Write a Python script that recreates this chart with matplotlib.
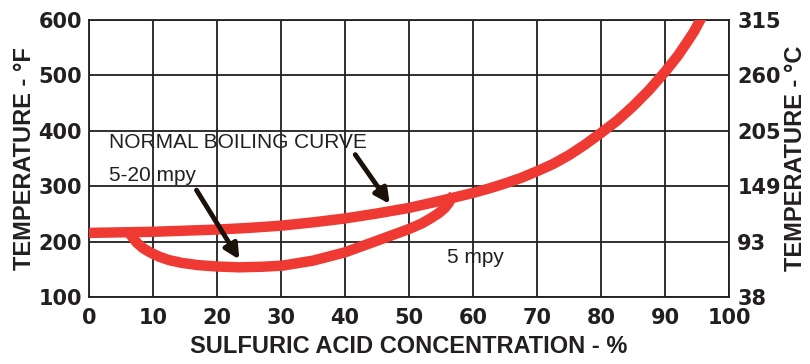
import matplotlib
matplotlib.use("Agg")
import matplotlib.pyplot as plt

# Normal boiling curve (concentration %, temperature °F)
boil_x = [0, 5, 10, 15, 20, 25, 30, 35, 40, 45, 50, 55, 57.5, 60, 62.5, 65, 67.5, 70, 72.5, 75,
          77.5, 80, 82.5, 85, 87.5, 90, 92, 93.3, 94.5, 96]
boil_t = [216, 217, 218, 220, 222, 225, 229, 235, 242, 251, 261, 274, 281, 288, 296, 305, 315, 327, 340, 356,
          375, 396, 418, 444, 473, 506, 535, 557, 578, 610]

# 5 mpy iso-corrosion loop
loop_x = [6.3, 6.8, 7.5, 8.5, 9.7, 11, 12.5, 14.5, 17, 20, 23.4, 27, 30.2, 35, 40, 45.5, 50,
          52, 53.5, 54.7, 55.6, 56.2, 56.6, 57.0]
loop_t = [216, 208, 198, 188, 180, 173, 167, 162, 158, 155.5, 154, 155, 157, 166, 181, 204, 223,
          233, 243, 252, 261, 270, 278, 285]

x_ticks = [0, 10, 20, 30, 40, 50, 60, 70, 80, 90, 100]
f_ticks = [100, 200, 300, 400, 500, 600]
c_labels = ["38", "93", "149", "205", "260", "315"]

RED = "#ee3a33"
INK = "#231f20"

plt.rcParams["font.family"] = ["Liberation Sans", "DejaVu Sans"]
TICKFONT = dict(family="DejaVu Sans", weight="bold", size=15)

fig = plt.figure(figsize=(8.1, 3.64), dpi=100)
ax = fig.add_axes([89/810, 1 - 297.3/364, 640/810, (297.3 - 19.7)/364])

ax.set_xlim(0, 100)
ax.set_ylim(100, 600)
ax.set_xticks(x_ticks)
ax.set_xticklabels([str(v) for v in x_ticks], fontdict=TICKFONT)
ax.set_yticks(f_ticks)
ax.set_yticklabels([str(v) for v in f_ticks], fontdict=TICKFONT)
ax.grid(True, color=INK, linewidth=1.3)
ax.set_axisbelow(True)
for s in ax.spines.values():
    s.set_color(INK)
    s.set_linewidth(1.3)
ax.tick_params(length=0, colors=INK)
ax.tick_params(axis="x", pad=8)
ax.tick_params(axis="y", pad=5)

ax.plot(boil_x, boil_t, color=RED, linewidth=7.5, solid_capstyle="butt", solid_joinstyle="round", zorder=3)
ax.plot(loop_x, loop_t, color=RED, linewidth=7.5, solid_capstyle="butt", solid_joinstyle="round", zorder=3)

ax.set_xlabel("SULFURIC ACID CONCENTRATION - %", fontsize=17, fontweight="bold", color=INK, labelpad=5)
ax.set_ylabel("TEMPERATURE - °F", fontsize=17, fontweight="bold", color=INK, labelpad=2)

ax2 = ax.twinx()
ax2.set_ylim(100, 600)
ax2.set_yticks(f_ticks)
ax2.set_yticklabels(c_labels, fontdict=TICKFONT)
ax2.tick_params(length=0, colors=INK, pad=6)
for s in ax2.spines.values():
    s.set_visible(False)
ax2.set_ylabel("TEMPERATURE - °C", fontsize=17, fontweight="bold", color=INK, labelpad=2)

ax.text(3.1, 378, "NORMAL BOILING CURVE", fontsize=15, color=INK, va="center", ha="left", zorder=5)
ax.text(3.1, 320, "5-20 mpy", fontsize=15, color=INK, va="center", ha="left", zorder=5)
ax.text(55.9, 171, "5 mpy", fontsize=15, color=INK, va="center", ha="left", zorder=5)

arrow = dict(arrowstyle="-|>", color="#1a1208", lw=3.5, mutation_scale=22, shrinkA=0, shrinkB=0)
ax.annotate("", xy=(47.0, 268), xytext=(41.6, 357), arrowprops=arrow, zorder=6)
ax.annotate("", xy=(23.5, 168), xytext=(16.8, 293), arrowprops=arrow, zorder=6)

fig.savefig("out.png", dpi=100)
